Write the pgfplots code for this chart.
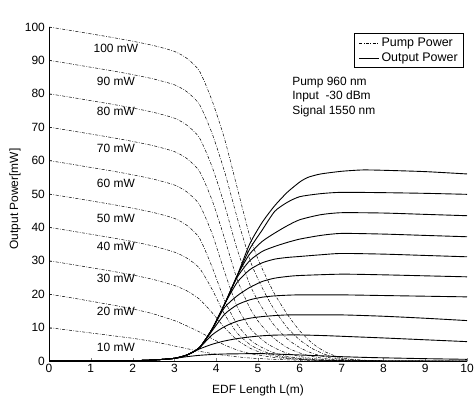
\documentclass[border=0pt]{standalone}
\usepackage{pgfplots}
\pgfplotsset{compat=1.18}
\usepackage{fontspec}
\setmainfont{Liberation Sans}
\begin{document}
\fontsize{12}{14}\selectfont
\begin{tikzpicture}
\begin{axis}[
  name=ax,
  width=418bp, height=334bp, scale only axis,
  xmin=0, xmax=10, ymin=0, ymax=100,
  xtick={0,1,...,10}, ytick={0,10,...,100},
  axis x line*=bottom, axis y line*=left,
  tick align=inside, major tick length=3pt,
  axis line style={line width=0.8pt},
  /pgf/number format/assume math mode=true,
  tick label style={font=\fontsize{12}{14}\selectfont},
  xticklabel style={yshift=1pt},
  xlabel={EDF Length L(m)},
  xlabel style={at={(axis description cs:0.5,-0.087)}, anchor=center, font=\fontsize{12}{14}\selectfont},
  ylabel={Output Power[mW]},
  ylabel style={at={(axis description cs:-0.081,0.485)}, anchor=center, font=\fontsize{12}{14}\selectfont},
  legend style={at={(axis description cs:0.993,0.982)}, anchor=north east, draw=black, line width=0.8pt, font=\fontsize{12.5}{14}\selectfont, inner xsep=4pt, inner ysep=2.5pt, row sep=0.5pt, cells={anchor=west}},
  legend image code/.code={\draw[#1] (0cm,0cm) -- (0.7cm,0cm);},
  pump/.style={black, line width=0.5pt, dash pattern=on 3pt off 1.5pt on 0.7pt off 1.5pt, smooth, tension=0.4},
  outp/.style={black, line width=0.9pt, smooth, tension=0.4},
]
% legend-bearing plots first
\addplot[pump] coordinates {(0,100) (0.5,99) (1,97.95) (1.5,96.9) (2,95.75) (2.5,94.45) (3,92.7) (3.3,90.6) (3.6,86.8) (3.9,78) (4.2,66.5) (4.5,52) (4.8,37.5) (5.0,30.5) (5.2,25) (5.4,20) (5.7,14) (6.0,9) (6.3,5.3) (6.6,2.8) (6.9,1.3) (7.2,0.6) (7.6,0.2) (8,0.06) (9,0) (10,0)};
\addplot[outp] coordinates {(0,0.001) (1,0.01) (2,0.1) (2.5,0.3) (3,0.8) (3.3,1.8) (3.6,4.0) (3.9,9.5) (4.2,17) (4.5,25.5) (4.8,35) (5.1,41.5) (5.4,46.5) (5.7,50.5) (6.0,53.6) (6.2,55) (6.5,56) (7,56.8) (7.5,57.2) (8,57.1) (9,56.7) (10,56)};
\legend{Pump Power, Output Power}
% pumps
\addplot[pump] coordinates {(0,90) (0.5,89) (1,87.95) (1.5,86.9) (2,85.75) (2.5,84.45) (3,82.7) (3.3,80.6) (3.6,76.8) (3.9,68.2) (4.2,56.7) (4.5,43) (4.8,30.5) (5.0,24.5) (5.2,19.5) (5.4,15.2) (5.7,10) (6.0,6.3) (6.3,3.7) (6.6,2.0) (6.9,0.95) (7.2,0.42) (7.6,0.14) (8,0.04) (9,0) (10,0)};
\addplot[pump] coordinates {(0,80) (0.5,79) (1,77.95) (1.5,76.9) (2,75.75) (2.5,74.45) (3,72.7) (3.3,70.6) (3.6,66.8) (3.9,58.2) (4.2,46.7) (4.5,33.5) (4.8,23) (5.0,18) (5.2,14) (5.4,10.5) (5.7,6.6) (6.0,4) (6.3,2.3) (6.6,1.25) (6.9,0.6) (7.2,0.27) (7.6,0.08) (8,0.02) (9,0) (10,0)};
\addplot[pump] coordinates {(0,70) (0.5,69) (1,67.95) (1.5,66.9) (2,65.75) (2.5,64.45) (3,62.7) (3.3,60.6) (3.6,56.8) (3.9,48.2) (4.2,36.7) (4.5,24.5) (4.8,16) (5.0,12) (5.2,9) (5.4,6.6) (5.7,4.0) (6.0,2.4) (6.3,1.35) (6.6,0.72) (6.9,0.36) (7.2,0.15) (7.6,0.05) (8,0) (10,0)};
\addplot[pump] coordinates {(0,60) (0.5,59) (1,57.95) (1.5,56.9) (2,55.75) (2.5,54.45) (3,52.7) (3.3,50.6) (3.6,46.8) (3.9,38.2) (4.2,26.7) (4.5,16.3) (4.8,10) (5.0,7.4) (5.2,5.4) (5.4,3.9) (5.7,2.3) (6.0,1.35) (6.3,0.75) (6.6,0.4) (6.9,0.19) (7.2,0.08) (7.6,0.02) (8,0) (10,0)};
\addplot[pump] coordinates {(0,50) (0.5,49) (1,47.95) (1.5,46.9) (2,45.75) (2.5,44.45) (3,42.7) (3.3,40.6) (3.6,36.8) (3.9,28.2) (4.2,18.2) (4.5,11) (4.8,6.5) (5.0,4.7) (5.2,3.4) (5.4,2.4) (5.7,1.4) (6.0,0.85) (6.3,0.47) (6.6,0.25) (6.9,0.12) (7.2,0.05) (7.6,0.02) (8,0) (10,0)};
\addplot[pump] coordinates {(0,40) (0.5,39) (1,37.95) (1.5,36.9) (2,35.75) (2.5,34.4) (3,32.6) (3.3,30.8) (3.6,27.8) (3.9,21.5) (4.2,14) (4.5,8.4) (4.8,5.0) (5.0,3.6) (5.2,2.6) (5.4,1.85) (5.7,1.1) (6.0,0.65) (6.3,0.35) (6.6,0.18) (7,0.07) (7.5,0.02) (8,0) (10,0)};
\addplot[pump] coordinates {(0,30) (0.5,29) (1,27.95) (1.5,26.9) (2,25.75) (2.5,24.4) (3,22.6) (3.3,21) (3.6,18.5) (3.9,14.5) (4.2,10) (4.5,6.3) (4.8,3.9) (5.0,2.85) (5.2,2.05) (5.4,1.5) (5.7,0.9) (6.0,0.5) (6.3,0.28) (6.6,0.15) (7,0.06) (7.5,0.02) (8,0) (10,0)};
\addplot[pump] coordinates {(0,20) (0.5,19) (1,17.9) (1.5,16.8) (2,15.6) (2.5,14.1) (3,12.1) (3.3,10.5) (3.6,8.7) (3.9,6.7) (4.2,4.8) (4.5,3.3) (4.8,2.25) (5.0,1.8) (5.2,1.4) (5.4,1.05) (5.7,0.7) (6.0,0.45) (6.3,0.28) (6.6,0.17) (7,0.08) (7.5,0.03) (8,0) (10,0)};
\addplot[pump] coordinates {(0,10) (0.5,9.2) (1,8.4) (1.5,7.6) (2,6.8) (2.5,5.8) (3,4.5) (3.3,3.7) (3.6,2.9) (3.9,2.25) (4.2,1.7) (4.5,1.25) (4.8,0.9) (5.1,0.68) (5.4,0.5) (5.7,0.36) (6.0,0.25) (6.5,0.13) (7,0.07) (8,0.01) (10,0)};
% outputs
\addplot[outp] coordinates {(0,0.001) (1,0.01) (2,0.1) (2.5,0.3) (3,0.8) (3.3,1.8) (3.6,4.0) (3.9,9.5) (4.2,17) (4.5,25.5) (4.8,33.5) (5.1,39.2) (5.4,44.8) (5.7,47.5) (6.0,49.2) (6.5,50.1) (7,50.5) (8,50.4) (9,50.2) (10,49.9)};
\addplot[outp] coordinates {(0,0.001) (1,0.01) (2,0.1) (2.5,0.3) (3,0.8) (3.3,1.8) (3.6,4.0) (3.9,9.5) (4.2,17) (4.5,25.5) (4.8,32) (5.1,35.8) (5.4,38.3) (5.7,40.5) (6.0,42.3) (6.5,43.8) (7,44.4) (8,44.3) (9,43.9) (10,43.5)};
\addplot[outp] coordinates {(0,0.001) (1,0.01) (2,0.1) (2.5,0.3) (3,0.8) (3.3,1.8) (3.6,4.0) (3.9,9.5) (4.2,17) (4.5,25) (4.8,30) (5.1,32.8) (5.4,34.3) (5.7,35.5) (6.0,36.5) (6.5,37.6) (7,38.2) (8,38) (9,37.6) (10,37.2)};
\addplot[outp] coordinates {(0,0.001) (1,0.01) (2,0.1) (2.5,0.3) (3,0.8) (3.3,1.8) (3.6,4.0) (3.9,9.5) (4.2,17) (4.5,23.5) (4.8,27.3) (5.1,29.4) (5.4,30.5) (5.7,31.0) (6.0,31.3) (6.5,31.8) (7,32.2) (8,32) (9,31.6) (10,31.2)};
\addplot[outp] coordinates {(0,0.001) (1,0.01) (2,0.1) (2.5,0.3) (3,0.8) (3.3,1.8) (3.6,4.0) (3.9,9.5) (4.2,16) (4.5,19.5) (4.8,22) (5.1,23.8) (5.4,24.8) (5.7,25.3) (6.0,25.6) (7,26) (8,25.8) (9,25.5) (10,25.2)};
\addplot[outp] coordinates {(0,0.001) (1,0.01) (2,0.1) (2.5,0.3) (3,0.8) (3.3,1.8) (3.6,4.0) (3.9,9.0) (4.2,14.0) (4.5,16.8) (4.8,18.3) (5.1,19.1) (5.4,19.5) (5.7,19.7) (6.0,19.8) (7,19.8) (8,19.6) (9,19.4) (10,19.2)};
\addplot[outp] coordinates {(0,0.001) (1,0.01) (2,0.1) (2.5,0.3) (3,0.8) (3.3,1.8) (3.6,4.0) (3.9,7.8) (4.2,10.3) (4.5,11.9) (4.8,12.8) (5.1,13.3) (5.4,13.6) (5.7,13.8) (6.0,13.8) (7,13.8) (8,13.4) (9,12.8) (10,12.1)};
\addplot[outp] coordinates {(0,0.001) (1,0.01) (2,0.1) (2.5,0.3) (3,0.8) (3.3,1.8) (3.6,3.6) (3.9,5.0) (4.2,6.0) (4.5,6.7) (4.8,7.2) (5.1,7.55) (5.4,7.75) (5.7,7.8) (6.0,7.8) (6.6,7.6) (7,7.4) (8,6.9) (9,6.35) (10,5.8)};
\addplot[outp] coordinates {(0,0.001) (1,0.01) (2,0.1) (2.5,0.3) (3,0.8) (3.3,1.3) (3.6,1.7) (3.9,1.95) (4.2,2.1) (4.5,2.15) (4.8,2.2) (5.1,2.2) (5.4,2.1) (5.7,1.95) (6.0,1.8) (6.3,1.65) (6.6,1.5) (7,1.3) (7.5,1.1) (8,0.95) (9,0.7) (10,0.5)};
% curve labels
\foreach \v/\y in {100/93.6,90/83.7,80/74.7,70/63.8,60/53.3,50/42.8,40/34.3,30/24.8,20/14.9,10/4.0}{
  \edef\tmp{\noexpand\node[font=\noexpand\fontsize{12}{14}\noexpand\selectfont] at (axis cs:1.6,\y) {\v\noexpand\ mW};}\tmp
}
\node[anchor=west, align=left, font=\fontsize{12}{14.5}\selectfont] at (axis cs:5.72,79.1) {Pump 960 nm\\Input~ -30 dBm\\Signal 1550 nm};
\node[font=\fontsize{13}{15}\selectfont] at (axis description cs:0.5,1.052) {Output power as a function of pump power};
\end{axis}
\pgfresetboundingbox
\path ([shift={(-49bp,-41bp)}]ax.south west) rectangle ([shift={(8bp,27bp)}]ax.north east);
\end{tikzpicture}
\end{document}
